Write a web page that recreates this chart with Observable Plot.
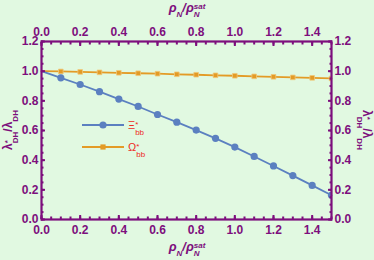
<!DOCTYPE html>
<html><head><meta charset="utf-8">
<script src="https://cdn.jsdelivr.net/npm/d3@7"></script>
<script src="https://cdn.jsdelivr.net/npm/@observablehq/plot@0.6"></script>
<style>
html,body{margin:0;padding:0;background:#e1f9e1;}
#c{position:relative;width:374px;height:260px;overflow:hidden;font-family:"Liberation Sans",Arial,sans-serif;}
.ttl{position:absolute;color:#7d0f7d;font-weight:bold;font-size:12px;white-space:nowrap;line-height:14px;}
.it{font-style:italic;}
.ss{display:inline-block;font-size:8px;line-height:8px;vertical-align:-6px;}
.ss span{display:block;}
.leg{position:absolute;color:#ee2a24;font-size:11px;white-space:nowrap;line-height:12px;}
</style></head>
<body><div id="c"></div>
<script>
// data
const densities = [0,0.1,0.2,0.3,0.4,0.5,0.6,0.7,0.8,0.9,1.0,1.1,1.2,1.3,1.4,1.5];
const xiValues = [1.0,0.955,0.91,0.862,0.812,0.762,0.708,0.656,0.603,0.547,0.488,0.425,0.361,0.296,0.23,0.163];
const omegaValues = [1.0,0.998,0.995,0.992,0.989,0.986,0.983,0.979,0.976,0.972,0.969,0.965,0.962,0.958,0.955,0.951];
const xMajorTicks = [0,0.2,0.4,0.6,0.8,1.0,1.2,1.4];
const xMinorTicks = d3.range(0,1.5001,0.05);
const yMajorTicks = [0,0.2,0.4,0.6,0.8,1.0,1.2];
const yMinorTicks = d3.range(0,1.2001,0.05);
const seriesNames = ["Xi","Omega"];

const purple = "#7d0f7d";
const blue = "#5b80c0";
const orange = "#e39b26";

const xi = densities.map((d,i)=>({x:d,y:xiValues[i]}));
const om = densities.map((d,i)=>({x:d,y:omegaValues[i]}));
const fmt = d3.format(".1f");

const plot = Plot.plot({
  width:374, height:260,
  marginLeft:41, marginRight:43, marginTop:41, marginBottom:41,
  style:{background:"transparent", color:purple, fontFamily:"Liberation Sans, Arial, sans-serif", fontSize:"12px", fontWeight:"bold"},
  x:{domain:[0,1.5]},
  y:{domain:[0,1.2]},
  marks:[
    Plot.line(om,{x:"x",y:"y",stroke:orange,strokeWidth:1.8}),
    Plot.dot(om.slice(1),{x:"x",y:"y",symbol:"square",r:2.6,fill:orange,stroke:"#f0c878",strokeWidth:0.8,clip:true}),
    Plot.line(xi,{x:"x",y:"y",stroke:blue,strokeWidth:1.8}),
    Plot.dot(xi.slice(1),{x:"x",y:"y",r:3.6,fill:blue,clip:true}),
    Plot.frame({stroke:purple,strokeWidth:2.2}),
    Plot.axisX({anchor:"bottom",ticks:xMajorTicks,tickSize:-4,tickPadding:10,tickFormat:fmt,stroke:purple,strokeWidth:2,fill:purple,label:null}),
    Plot.axisX({anchor:"top",ticks:xMajorTicks,tickSize:-4,tickPadding:10,tickFormat:fmt,stroke:purple,strokeWidth:2,fill:purple,label:null}),
    Plot.axisX({anchor:"bottom",ticks:xMinorTicks,tickSize:-2.5,tickFormat:()=>"",stroke:purple,strokeWidth:2,label:null}),
    Plot.axisX({anchor:"top",ticks:xMinorTicks,tickSize:-2.5,tickFormat:()=>"",stroke:purple,strokeWidth:2,label:null}),
    Plot.axisY({anchor:"left",ticks:yMajorTicks,tickSize:-4,tickPadding:7,tickFormat:fmt,stroke:purple,strokeWidth:2,fill:purple,label:null}),
    Plot.axisY({anchor:"right",ticks:yMajorTicks,tickSize:-4,tickPadding:7,tickFormat:fmt,stroke:purple,strokeWidth:2,fill:purple,label:null}),
    Plot.axisY({anchor:"left",ticks:yMinorTicks,tickSize:-2.5,tickFormat:()=>"",stroke:purple,strokeWidth:2,label:null}),
    Plot.axisY({anchor:"right",ticks:yMinorTicks,tickSize:-2.5,tickFormat:()=>"",stroke:purple,strokeWidth:2,label:null})
  ]
});
const c = document.getElementById("c");
c.appendChild(plot);
plot.style.position="absolute"; plot.style.left="0"; plot.style.top="0";

function addHTML(html, cls, css){
  const d=document.createElement("div"); d.className=cls; d.innerHTML=html;
  Object.assign(d.style,css); c.appendChild(d); return d;
}
const xTitle = "<span class=\"it\">ρ<span class=\"ss\" style=\"vertical-align:-5px\"><span>&nbsp;</span><span>N</span></span>/ρ<span class=\"ss\" style=\"vertical-align:-5px\"><span>sat</span><span>N</span></span></span>";
addHTML(xTitle,"ttl",{left:"187px",top:"10px",transform:"translate(-50%,-50%)",fontSize:"13px"});
addHTML(xTitle,"ttl",{left:"187px",top:"249px",transform:"translate(-50%,-50%)",fontSize:"13px"});
const yTitle = "λ<span class=\"ss\"><span>*</span><span>DH</span></span>/λ<span class=\"ss\"><span>&nbsp;</span><span>DH</span></span>";
addHTML(yTitle,"ttl",{left:"10px",top:"130px",transform:"translate(-50%,-50%) rotate(-90deg)"});
addHTML(yTitle,"ttl",{left:"364px",top:"130px",transform:"translate(-50%,-50%) rotate(90deg)"});

// legend
const legendItems = [
  {name:seriesNames[0], color:blue, label:"Ξ<span class=\"ss\"><span>*</span><span>bb</span></span>", sym:"circle", top:119},
  {name:seriesNames[1], color:orange, label:"Ω<span class=\"ss\"><span>*</span><span>bb</span></span>", sym:"square", top:141}
];
legendItems.forEach(it=>{
  const s = document.createElementNS("http://www.w3.org/2000/svg","svg");
  s.setAttribute("width","44"); s.setAttribute("height","12");
  Object.assign(s.style,{position:"absolute",left:"81px",top:(it.top)+"px"});
  s.innerHTML = `<line x1="1" x2="43" y1="6" y2="6" stroke="${it.color}" stroke-width="1.8"/>` +
    (it.sym==="circle" ? `<circle cx="22" cy="6" r="3.6" fill="${it.color}"/>` : `<rect x="19.4" y="3.4" width="5.2" height="5.2" fill="${it.color}"/>`);
  c.appendChild(s);
  addHTML(it.label,"leg",{left:"128px",top:(it.top)+"px"});
});
</script>
</body></html>
